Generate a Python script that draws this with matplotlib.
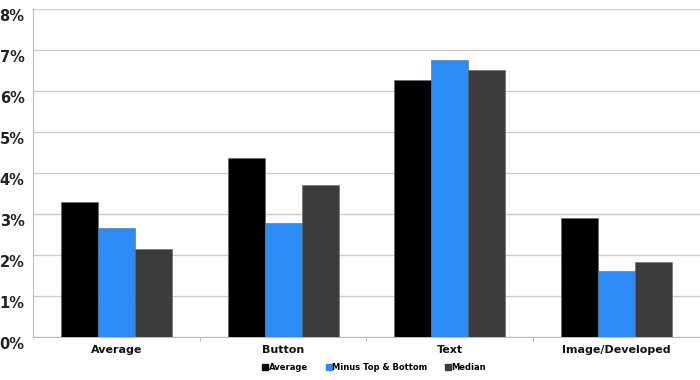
import matplotlib
matplotlib.use("Agg")
import matplotlib.pyplot as plt
import numpy as np
from matplotlib.lines import Line2D

categories = ["Average", "Button", "Text", "Image/Developed"]
series_names = ["Average", "Minus Top & Bottom", "Median"]
avg = [3.29, 4.37, 6.27, 2.90]
minus_tb = [2.66, 2.78, 6.76, 1.61]
median = [2.15, 3.71, 6.51, 1.83]
colors = ["#000000", "#2b8cf7", "#3c3c3c"]
yticks = [0, 1, 2, 3, 4, 5, 6, 7, 8]

plt.rcParams['font.family'] = ['DejaVu Sans']
fig = plt.figure(figsize=(7.0, 3.8), dpi=100)
ax = fig.add_axes([0.047, 0.113, 0.953, 0.863])

x = np.arange(len(categories))
w = 0.222
for i, (vals, c) in enumerate(zip([avg, minus_tb, median], colors)):
    ax.bar(x + (i - 1) * w, vals, width=w, color=c, edgecolor="#666666", linewidth=0.4, zorder=3)

ax.set_xlim(-0.5, 3.5)
ax.set_ylim(0, 8)
ax.set_yticks(yticks)
ax.set_yticklabels([f"{v}%" for v in yticks], fontsize=10.5, fontweight="bold",
                   color="#222222", va="top")
ax.set_xticks(x)
ax.set_xticklabels(categories, fontsize=8, fontweight="bold", color="#111111")
ax.set_xticks([0.5, 1.5, 2.5], minor=True)
ax.tick_params(axis="x", which="major", length=0, pad=6)
ax.tick_params(axis="x", which="minor", length=3, color="#aaaaaa")
ax.tick_params(axis="y", length=0, pad=6)
ax.grid(axis="y", color="#cccccc", linewidth=1.0, zorder=0)
for s in ["top", "right"]:
    ax.spines[s].set_visible(False)
ax.spines["left"].set_color("#bbbbbb")
ax.spines["bottom"].set_color("#bbbbbb")

handles = [Line2D([0], [0], marker="s", linestyle="none", color=c, markersize=4.5) for c in colors]
leg = fig.legend(handles, series_names, loc="center", bbox_to_anchor=(0.535, 0.032), ncol=3,
                 frameon=False, prop={"size": 6, "weight": "bold"}, handletextpad=0.1,
                 columnspacing=2.2, handlelength=0.6)

fig.savefig("out.png", dpi=100)
